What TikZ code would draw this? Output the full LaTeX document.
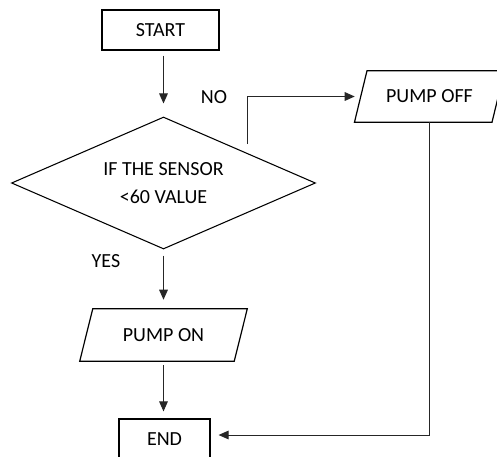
\documentclass[tikz,border=0pt]{standalone}
\usepackage{fontspec}
\setmainfont{Carlito}
\usetikzlibrary{shapes.geometric,arrows.meta,calc}
\tikzset{
  lbl/.style={font=\fontsize{15}{21}\selectfont, inner sep=0pt},
  boxnode/.style={draw, line width=0.9pt, font=\fontsize{15}{21}\selectfont, inner sep=0pt},
  ionode/.style={font=\fontsize{15}{21}\selectfont, inner sep=0pt},
  decnode/.style={draw, line width=0.8pt, shape=diamond, shape aspect=2.3, inner sep=0pt,
     minimum width=228pt, minimum height=99pt, align=center, font=\fontsize{15}{21}\selectfont},
  arr/.style={draw=black!85, line width=0.7pt, -{Triangle[length=7.5pt,width=6.5pt]}},
  ioline/.style={line width=0.9pt}
}
\begin{document}
\begin{tikzpicture}[x=0.75pt,y=-0.75pt]
\useasboundingbox (0,0) rectangle (497,457);
\node[boxnode, minimum width=87.75pt, minimum height=30pt] (start) at (160.5,30) {START};
\node[decnode] (dec) at (163.5,183) {IF THE SENSOR\\<60 VALUE};
\node[ionode, minimum width=102.75pt, minimum height=38.25pt] (off) at (429.5,96.5) {PUMP OFF};
\node[ionode, minimum width=115.5pt, minimum height=39pt] (on) at (163.5,335) {PUMP ON};
\node[boxnode, minimum width=68.25pt, minimum height=30pt] (end) at (164.5,439) {END};
\node[lbl] (no) at (214,97) {NO};
\node[lbl] (yes) at (106,261) {YES};
% parallelograms
\draw[ioline] ([xshift=4.7pt]off.north west) -- ([xshift=4.7pt]off.north east) -- ([xshift=-4.7pt]off.south east) -- ([xshift=-4.7pt]off.south west) -- cycle;
\draw[ioline] ([xshift=4.9pt]on.north west) -- ([xshift=4.9pt]on.north east) -- ([xshift=-4.9pt]on.south east) -- ([xshift=-4.9pt]on.south west) -- cycle;
% connectors
\coordinate (nob) at (247,144);
\draw[arr, shorten <=3.75pt, shorten >=9.75pt] (start.south -| dec.north) -- (dec.north);
\draw[arr, shorten <=4.5pt, shorten >=6.75pt] (dec.south) -- (on.north);
\draw[arr, shorten <=3pt, shorten >=5.25pt] (on.south) -- (on.south |- end.north);
\draw[arr, shorten >=4.5pt] (nob) |- (off.west);
\draw[arr, shorten >=6pt] (off.south) |- ([yshift=3pt]end.east);
\end{tikzpicture}
\end{document}
